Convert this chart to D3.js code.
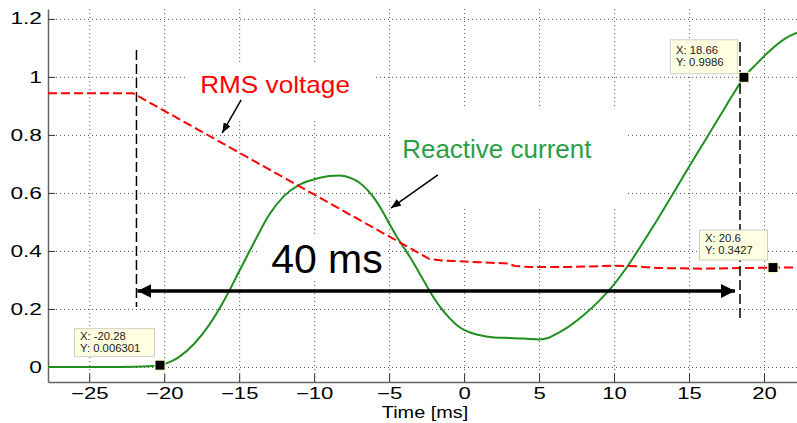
<!DOCTYPE html>
<html>
<head>
<meta charset="utf-8">
<script src="https://cdn.jsdelivr.net/npm/d3@7"></script>
<style>
  body { margin: 0; background: #fff; }
  svg { display: block; font-family: "Liberation Sans", Arial, sans-serif; }
</style>
</head>
<body>
<div id="chart"></div>
<script>
// ---- data ----
var currentTime = [-27.75, -24, -22, -21, -20.28, -19.5, -19, -18, -17, -16, -15, -14, -13, -12, -11, -10, -9, -8.3, -7.5, -7, -6.5, -6, -5.5, -5, -4.5, -4, -3.5, -3, -2.5, -2, -1.5, -1, -0.5, 0, 1, 2, 3, 4, 5, 5.6, 6.2, 7, 8, 9, 10, 11, 12, 13, 14, 15, 16, 17, 18, 18.66, 19.5, 20.5, 21.5, 22.2];
var currentValues = [0, 0, 0.001, 0.003, 0.0063, 0.02, 0.035, 0.08, 0.145, 0.23, 0.33, 0.43, 0.525, 0.59, 0.628, 0.647, 0.658, 0.66, 0.65, 0.636, 0.613, 0.582, 0.542, 0.495, 0.45, 0.41, 0.37, 0.325, 0.28, 0.237, 0.2, 0.17, 0.145, 0.128, 0.11, 0.102, 0.1, 0.098, 0.095, 0.1, 0.115, 0.14, 0.18, 0.228, 0.285, 0.355, 0.435, 0.517, 0.603, 0.69, 0.775, 0.86, 0.945, 0.9986, 1.045, 1.095, 1.135, 1.152];

var voltageTime = [-27.75, -22.1, -2.3, -1.5, 0, 1, 2.9, 3.4, 4.3, 7, 10, 11.5, 13, 16, 18.5, 20.6, 22.2];
var voltageValues = [0.944, 0.944, 0.372, 0.367, 0.364, 0.361, 0.357, 0.348, 0.345, 0.345, 0.349, 0.347, 0.341, 0.339, 0.341, 0.3427, 0.343];

var xTicks = [-25, -20, -15, -10, -5, 0, 5, 10, 15, 20];
var yTicks = [0, 0.2, 0.4, 0.6, 0.8, 1, 1.2];
var yTickLabels = ["0", "0.2", "0.4", "0.6", "0.8", "1", "1.2"];

// data tips
var tipX = [-20.28, 18.66, 20.6];
var tipY = [0.006301, 0.9986, 0.3427];
var tipXText = ["X: -20.28", "X: 18.66", "X: 20.6"];
var tipYText = ["Y: 0.006301", "Y: 0.9986", "Y: 0.3427"];

// the 40 ms window
var windowStart = -21.85, windowEnd = 18.4;

// ---- layout ----
var width = 797, height = 423;
var plotLeft = 48, plotRight = 797, plotTop = 9, plotBottom = 382;

var svg = d3.select("#chart").append("svg")
    .attr("width", width)
    .attr("height", height);

var x = d3.scaleLinear().domain([-27.75, 22.2]).range([plotLeft, plotRight]);
var y = d3.scaleLinear().domain([-0.0517, 1.234]).range([plotBottom, plotTop]);

function stretch(sel, k) {
    sel.each(function () {
        var w = this.getComputedTextLength();
        d3.select(this).attr("textLength", w * k).attr("lengthAdjust", "spacingAndGlyphs");
    });
}

// grid
var grid = svg.append("g").attr("stroke", "#555").attr("stroke-dasharray", "1,3").attr("stroke-width", 1);
grid.selectAll(".vx").data(xTicks).enter().append("line")
    .attr("x1", d => x(d) + 0.5).attr("x2", d => x(d) + 0.5)
    .attr("y1", plotTop).attr("y2", plotBottom);
grid.selectAll(".hy").data(yTicks).enter().append("line")
    .attr("x1", plotLeft).attr("x2", plotRight)
    .attr("y1", d => y(d) + 0.5).attr("y2", d => y(d) + 0.5);

// axes
var xAxis = svg.append("g")
    .attr("transform", "translate(0," + plotBottom + ")")
    .call(d3.axisBottom(x).tickValues(xTicks).tickSizeInner(-8).tickSizeOuter(0).tickPadding(6));
var yAxis = svg.append("g")
    .attr("transform", "translate(" + plotLeft + ",0)")
    .call(d3.axisLeft(y).tickValues(yTicks).tickFormat((d, i) => yTickLabels[i]).tickSizeInner(-7).tickSizeOuter(0).tickPadding(6));

[xAxis, yAxis].forEach(function (g) {
    g.select(".domain").attr("stroke", "#666").attr("stroke-width", 1.5);
    g.selectAll(".tick line").attr("stroke", "#333");
    g.selectAll("text").attr("fill", "#000").style("font-size", "16px")
        .style("font-family", "'Liberation Sans', Arial, sans-serif");
});
stretch(xAxis.selectAll("text"), 1.38);
stretch(yAxis.selectAll("text"), 1.42);

svg.append("text")
    .attr("x", 425).attr("y", 418)
    .attr("text-anchor", "middle")
    .style("font-size", "16px")
    .attr("fill", "#000")
    .text("Time [ms]")
    .call(stretch, 1.24);

// white label backgrounds (they hide the grid, not the curves)
var labels = svg.append("g");
labels.append("rect").attr("x", 187).attr("y", 63).attr("width", 186).attr("height", 56).attr("fill", "#fff");
labels.append("rect").attr("x", 391).attr("y", 108).attr("width", 236).attr("height", 100).attr("fill", "#fff");
labels.append("rect").attr("x", 260).attr("y", 236).attr("width", 128).attr("height", 45).attr("fill", "#fff");

// curves
var current = currentTime.map((t, i) => [t, currentValues[i]]);
var voltage = voltageTime.map((t, i) => [t, voltageValues[i]]);

svg.append("path")
    .datum(current)
    .attr("fill", "none")
    .attr("stroke", "#1f8f1f")
    .attr("stroke-width", 2)
    .attr("d", d3.line().x(d => x(d[0])).y(d => y(d[1])).curve(d3.curveMonotoneX));

svg.append("path")
    .datum(voltage)
    .attr("fill", "none")
    .attr("stroke", "#ff0000")
    .attr("stroke-width", 2)
    .attr("stroke-dasharray", "9,4")
    .attr("d", d3.line().x(d => x(d[0])).y(d => y(d[1])));

// dashed window markers
svg.append("line")
    .attr("x1", x(windowStart)).attr("x2", x(windowStart))
    .attr("y1", y(1.093)).attr("y2", y(0.207))
    .attr("stroke", "#000").attr("stroke-width", 1.5).attr("stroke-dasharray", "10,4");
svg.append("line")
    .attr("x1", x(windowEnd)).attr("x2", x(windowEnd))
    .attr("y1", y(1.12)).attr("y2", y(0.155))
    .attr("stroke", "#000").attr("stroke-width", 1.5).attr("stroke-dasharray", "10,4");

// arrow heads
var defs = svg.append("defs");
defs.append("marker").attr("id", "big")
    .attr("viewBox", "0 0 14 14").attr("refX", 14).attr("refY", 7)
    .attr("markerWidth", 14).attr("markerHeight", 14)
    .attr("markerUnits", "userSpaceOnUse").attr("orient", "auto-start-reverse")
    .append("path").attr("d", "M0,0 L14,7 L0,14 Z").attr("fill", "#000");
defs.append("marker").attr("id", "small")
    .attr("viewBox", "0 0 10 8").attr("refX", 10).attr("refY", 4)
    .attr("markerWidth", 10).attr("markerHeight", 8)
    .attr("markerUnits", "userSpaceOnUse").attr("orient", "auto")
    .append("path").attr("d", "M0,0 L10,4 L0,8 Z").attr("fill", "#000");

// 40 ms double arrow
svg.append("line")
    .attr("x1", x(windowStart) + 1).attr("x2", x(windowEnd) - 5)
    .attr("y1", y(0.262)).attr("y2", y(0.262))
    .attr("stroke", "#000").attr("stroke-width", 3.5)
    .attr("marker-start", "url(#big)").attr("marker-end", "url(#big)");

svg.append("text")
    .attr("x", x(-12.87)).attr("y", y(0.324))
    .style("font-size", "41px").attr("fill", "#000")
    .text("40 ms");

// labels with pointers
svg.append("text")
    .attr("x", x(-17.6)).attr("y", y(0.945))
    .style("font-size", "24px").attr("fill", "#ff0000")
    .text("RMS voltage")
    .call(stretch, 1.09);
svg.append("line")
    .attr("x1", x(-14.87)).attr("y1", y(0.921)).attr("x2", x(-16.13)).attr("y2", y(0.807))
    .attr("stroke", "#000").attr("stroke-width", 1.5).attr("marker-end", "url(#small)");

svg.append("text")
    .attr("x", x(-4.13)).attr("y", y(0.72))
    .style("font-size", "26px").attr("fill", "#29a046")
    .text("Reactive current");
svg.append("line")
    .attr("x1", x(-1.75)).attr("y1", y(0.662)).attr("x2", x(-4.88)).attr("y2", y(0.548))
    .attr("stroke", "#000").attr("stroke-width", 1.5).attr("marker-end", "url(#small)");

// data tips
var tipBox = [
    { dx: -86, dy: -37, w: 80, h: 28 },
    { dx: -74, dy: -38, w: 67, h: 34 },
    { dx: -74, dy: -38, w: 68, h: 30 }
];
tipX.forEach(function (t, i) {
    var mx = x(t), my = y(tipY[i]), b = tipBox[i];
    var g = svg.append("g");
    g.append("rect")
        .attr("x", mx + b.dx + 0.5).attr("y", my + b.dy + 0.5)
        .attr("width", b.w).attr("height", b.h)
        .attr("fill", "#ffffe1").attr("stroke", "#cfcfbf");
    var pad = (b.h - 25) / 2;
    g.append("text")
        .attr("x", mx + b.dx + 6).attr("y", my + b.dy + pad + 10)
        .style("font-size", "10px").attr("fill", "#222")
        .text(tipXText[i]).call(stretch, 1.13);
    g.append("text")
        .attr("x", mx + b.dx + 6).attr("y", my + b.dy + pad + 22)
        .style("font-size", "10px").attr("fill", "#222")
        .text(tipYText[i]).call(stretch, 1.13);
    g.append("rect")
        .attr("x", mx - 5).attr("y", my - 5)
        .attr("width", 10).attr("height", 10)
        .attr("fill", "#000").attr("stroke", "#ffffc8").attr("stroke-width", 1);
});
</script>
</body>
</html>
